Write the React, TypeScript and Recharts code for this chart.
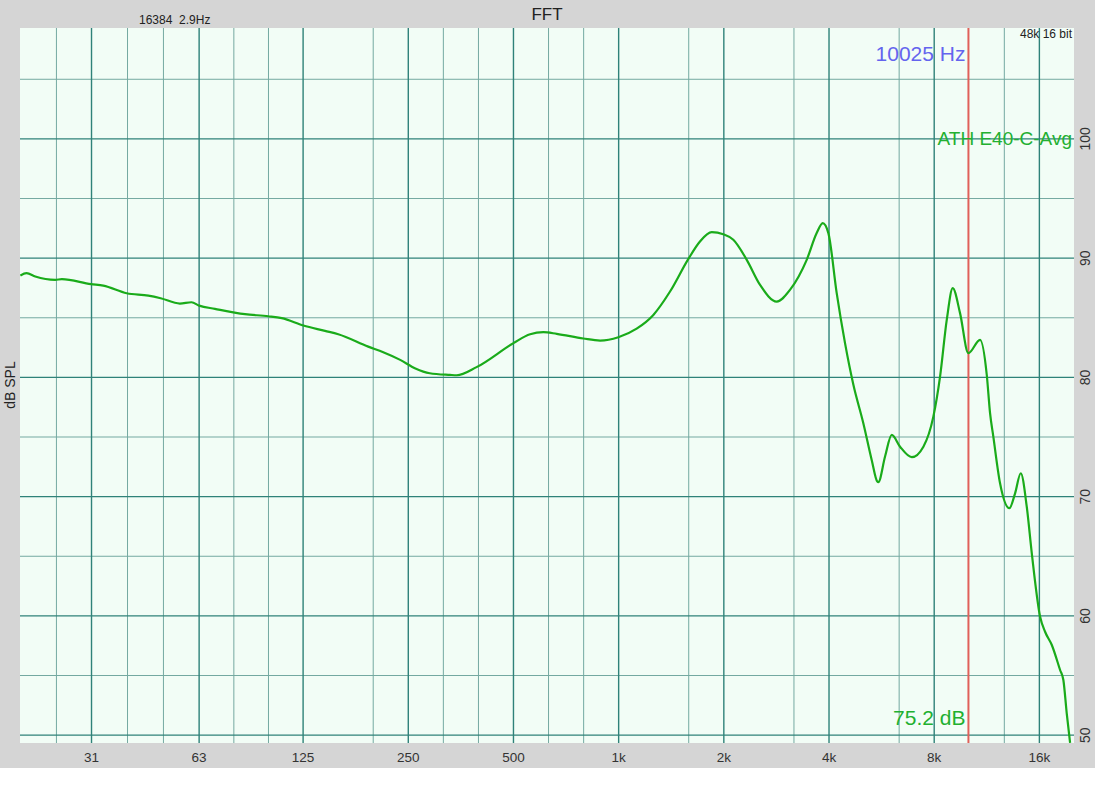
import { LineChart, Line, XAxis, YAxis, CartesianGrid, ReferenceLine, Legend } from "recharts";

const freqs = [
  19.4, 20.2, 21.4, 24.4, 25.5, 30.9, 33.5, 39.1, 45.1, 48.9, 55.5, 59.9, 63, 69.9, 85.2, 99.4, 108.6,
  125.2, 144.4, 157.6, 192, 212, 237, 262, 288, 329, 344, 392, 500, 558, 609, 665, 792, 885, 998,
  1126, 1257, 1403, 1582, 1709, 1847, 1993, 2129, 2326, 2539, 2834, 3093, 3453, 3688, 3838,
  3983, 4208, 4445, 4695, 5015, 5299, 5499, 5535, 5787, 6047, 6387, 6901, 7450, 7955, 8315,
  8690, 9040, 9485, 10020, 10823, 11313, 11560, 11812, 12347, 13128, 13632, 14152, 14722, 15220,
  16078, 16612, 17365, 18340, 18740, 19160, 19590,
];
const spl = [
  88.54, 88.74, 88.46, 88.18, 88.24, 87.82, 87.7, 87.06, 86.86, 86.64, 86.19, 86.3, 86.02, 85.75, 85.3, 85.13, 84.97,
  84.35, 83.9, 83.62, 82.58, 82.11, 81.47, 80.75, 80.35, 80.21, 80.18, 80.86, 82.87, 83.62, 83.79, 83.65, 83.26, 83.09, 83.37,
  84.09, 85.24, 87.2, 89.92, 91.4, 92.18, 92.0, 91.54, 89.86, 87.76, 86.36, 87.34, 89.86, 92.1, 92.94,
  92.1, 87.06, 82.87, 79.4, 76.16, 73.08, 71.26, 71.21, 73.36, 75.18, 74.19, 73.31, 74.19, 76.71, 80.07,
  84.82, 87.48, 85.39, 82.03, 83.15, 80.2, 77.0, 75.03, 71.12, 69.03, 70.28, 71.96, 69.16, 65.25,
  59.93, 58.67, 57.56, 55.46, 54.62, 51.83, 49.35,
];

const octaveTicks = [31, 63, 125, 250, 500, 1000, 2000, 4000, 8000, 16000];
const thirdOctaveLines = [24.6, 39.3, 49.8, 79.2, 99.5, 157.5, 198.4, 315, 397, 630, 794, 1260, 1587, 2520, 3175, 5040, 6350, 10079, 12699];
const dbTicks = [50, 60, 70, 80, 90, 100];
const dbMinorLines = [55, 65, 75, 85, 95, 105];

const cursorHz = 10025;
const cursorDb = 75.2;
const seriesName = "ATH E40-C-Avg";

const data = freqs.map((f, i) => ({ f, spl: spl[i] }));

const FONT = "'Liberation Sans', Arial, Helvetica, sans-serif";
const GREEN = "#1aab1a";

const fmtHz = (v: number) => (v >= 1000 ? `${v / 1000}k` : `${v}`);

const XTick = ({ x, payload }: any) => (
  <text x={x} y={762} textAnchor="middle" fontSize={13.5} fill="#333" fontFamily={FONT}>
    {fmtHz(payload.value)}
  </text>
);

const YTick = ({ y, payload }: any) => (
  <text
    x={1090}
    y={y}
    transform={`rotate(-90, 1090, ${y})`}
    textAnchor="middle"
    fontSize={14}
    fill="#333"
    fontFamily={FONT}
  >
    {payload.value}
  </text>
);

const CursorLabel = ({ viewBox }: any) => (
  <g fontFamily={FONT} fontSize={21} textAnchor="end">
    <text x={viewBox.x - 3} y={viewBox.y + 33} fill="#6464ee">{cursorHz} Hz</text>
    <text x={viewBox.x - 3} y={viewBox.y + viewBox.height - 18} fill="#22b030">{cursorDb} dB</text>
  </g>
);

export default function App() {
  return (
    <div style={{ position: "absolute", left: 0, top: 0, width: 1095, height: 800, background: "#fff" }}>
      <div style={{ position: "relative", width: 1095, height: 768, background: "#d5d5d5" }}>
        <LineChart width={1095} height={768} data={data} margin={{ top: 28, right: 0, bottom: 0, left: 20 }}>
          <CartesianGrid
            fill="#f2fdf6"
            stroke="#74a9a1"
            strokeWidth={1}
            verticalValues={thirdOctaveLines}
            horizontalValues={dbMinorLines}
          />
          <CartesianGrid
            stroke="#2f8279"
            strokeWidth={1.4}
            verticalValues={octaveTicks}
            horizontalValues={dbTicks}
          />
          <XAxis
            dataKey="f"
            type="number"
            scale="log"
            domain={[19.35, 20100]}
            allowDataOverflow
            ticks={octaveTicks}
            height={25}
            axisLine={false}
            tickLine={false}
            tick={<XTick />}
          />
          <YAxis
            orientation="right"
            type="number"
            domain={[49.34, 109.3]}
            allowDataOverflow
            ticks={dbTicks}
            width={21}
            axisLine={false}
            tickLine={false}
            tick={<YTick />}
          />
          <Legend
            layout="horizontal"
            verticalAlign="middle"
            align="center"
            wrapperStyle={{ top: 128, left: 20, width: 1052 }}
            content={() => (
              <div style={{ textAlign: "right", color: "#22b030", fontSize: 19, fontFamily: FONT }}>{seriesName}</div>
            )}
          />
          <ReferenceLine x={cursorHz} stroke="#e0605a" strokeWidth={2} label={<CursorLabel />} />
          <Line
            dataKey="spl"
            name={seriesName}
            type="monotone"
            stroke={GREEN}
            strokeWidth={2.2}
            dot={false}
            isAnimationActive={false}
          />
        </LineChart>
        <svg width={1095} height={768} style={{ position: "absolute", left: 0, top: 0, pointerEvents: "none" }}>
          <text x={547} y={20} textAnchor="middle" fontSize={17} fill="#222" fontFamily={FONT}>FFT</text>
          <text x={139} y={24} fontSize={12} fill="#222" fontFamily={FONT} style={{ whiteSpace: "pre" }}>16384  2.9Hz</text>
          <text x={1072} y={38} textAnchor="end" fontSize={12} fill="#222" fontFamily={FONT}>48k 16 bit</text>
          <text x={15} y={385} transform="rotate(-90, 15, 385)" textAnchor="middle" fontSize={14} fill="#222" fontFamily={FONT}>dB SPL</text>
        </svg>
      </div>
    </div>
  );
}
